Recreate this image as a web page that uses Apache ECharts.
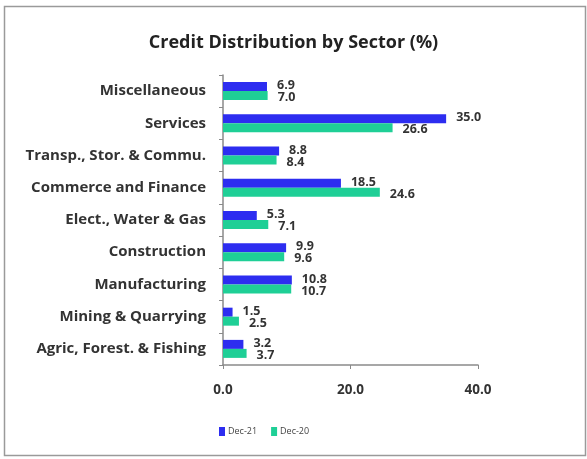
<!DOCTYPE html>
<html>
<head>
<meta charset="utf-8">
<style>
  html, body { margin: 0; padding: 0; background: #ffffff; }
  #chart { width: 587px; height: 459px; }
</style>
<script src="https://cdn.jsdelivr.net/npm/echarts@6/dist/echarts.min.js"></script>
</head>
<body>
<div id="chart"></div>
<script>
// Sectors, bottom to top as drawn on the category axis
const sectors = [
  'Agric, Forest. & Fishing',
  'Mining & Quarrying',
  'Manufacturing',
  'Construction',
  'Elect., Water & Gas',
  'Commerce and Finance',
  'Transp., Stor. & Commu.',
  'Services',
  'Miscellaneous'
];
// Share of credit (%) by sector
const dec21 = [3.2, 1.5, 10.8, 9.9, 5.3, 18.5, 8.8, 35.0, 6.9];
const dec20 = [3.7, 2.5, 10.7, 9.6, 7.1, 24.6, 8.4, 26.6, 7.0];
const xTicks = [0, 20, 40];

const FONT = '"Open Sans", Lato, sans-serif';

const chart = echarts.init(document.getElementById('chart'), null, { renderer: 'canvas' });

const valueLabel = (dy) => ({
  show: true,
  position: 'right',
  distance: 10,
  offset: [0, dy],
  formatter: (p) => p.value.toFixed(1),
  color: '#333333',
  fontFamily: FONT,
  fontWeight: 'bold',
  fontSize: 12.5
});

chart.setOption({
  animation: false,
  backgroundColor: '#ffffff',
  graphic: [{
    type: 'rect',
    shape: { x: 4.5, y: 6.5, width: 581, height: 449 },
    style: { fill: 'none', stroke: '#9a9a9a', lineWidth: 1.5 },
    z: -1
  }],
  title: {
    text: 'Credit Distribution by Sector (%)',
    left: 'center',
    top: 29,
    textStyle: {
      fontFamily: FONT,
      fontWeight: 'bold',
      fontSize: 18,
      color: '#222222'
    }
  },
  legend: {
    bottom: 18,
    left: 214,
    itemWidth: 6,
    itemHeight: 9,
    itemGap: 14,
    icon: 'rect',
    textStyle: { fontFamily: FONT, fontSize: 9, color: '#444444', padding: [0, 0, 0, -2] },
    data: ['Dec-21', 'Dec-20']
  },
  grid: {
    left: 223,
    top: 75,
    width: 255,
    height: 290,
    containLabel: false
  },
  xAxis: {
    type: 'value',
    min: xTicks[0],
    max: xTicks[xTicks.length - 1],
    interval: xTicks[1] - xTicks[0],
    axisLine: { show: true, lineStyle: { color: '#8a8a8a', width: 1.5 } },
    axisTick: { show: true, length: 4, lineStyle: { color: '#8a8a8a' } },
    splitLine: { show: false },
    axisLabel: {
      margin: 18,
      formatter: (v) => v.toFixed(1),
      color: '#333333',
      fontFamily: FONT,
      fontWeight: 'bold',
      fontSize: 13.5
    }
  },
  yAxis: {
    type: 'category',
    data: sectors,
    axisLine: { show: true, lineStyle: { color: '#8a8a8a', width: 1.5 } },
    axisTick: { show: true, length: 4, lineStyle: { color: '#8a8a8a' } },
    axisLabel: {
      margin: 17,
      color: '#333333',
      fontFamily: FONT,
      fontWeight: 'bold',
      fontSize: 15
    }
  },
  series: [
    {
      name: 'Dec-21',
      type: 'bar',
      data: dec21,
      barWidth: 9,
      barGap: '0%',
      itemStyle: { color: '#2d2df0' },
      label: valueLabel(-1),
      z: 2
    },
    {
      name: 'Dec-20',
      type: 'bar',
      data: dec20,
      barWidth: 9,
      itemStyle: { color: '#1fcf96' },
      label: valueLabel(2),
      z: 3
    }
  ]
});
</script>
</body>
</html>
